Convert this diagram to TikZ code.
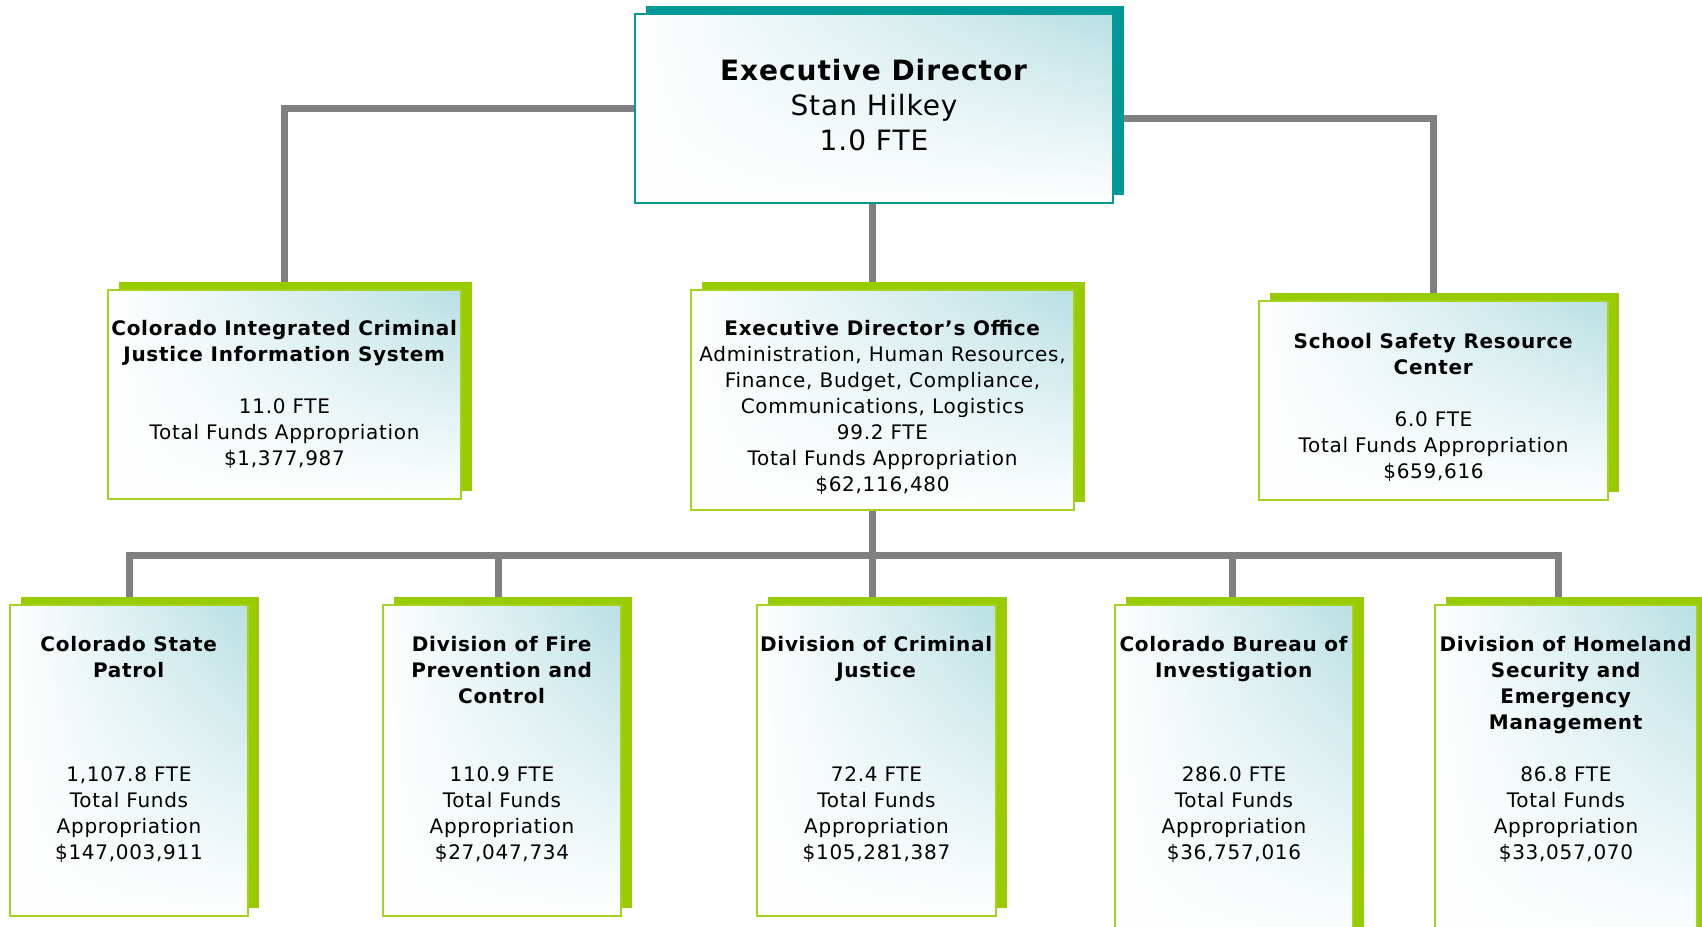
\documentclass[tikz,border=0pt]{standalone}
\usepackage{fontspec}
\setmainfont{DejaVu Sans}[LetterSpace=3.5]
\usetikzlibrary{shadows}
\usetikzlibrary{backgrounds}
\usetikzlibrary{fadings}
\definecolor{tshadow}{RGB}{0,153,153}
\definecolor{gshadow}{RGB}{153,204,0}
\definecolor{gedge}{RGB}{165,210,30}
\definecolor{tint}{RGB}{185,224,227}
\definecolor{lgrey}{RGB}{128,128,128}
\tikzfading[name=fade up, top color=transparent!100, middle color=transparent!70, bottom color=transparent!0]

\begin{document}
\begin{tikzpicture}[x=1pt,y=-1pt,font=\fontsize{20}{26}\selectfont]
      \tikzstyle{card}=[rectangle,fill=white,line width=2pt,align=center,inner sep=0pt,
        path picture={
          \fill[left color=white,right color=tint] (path picture bounding box.north west) rectangle (path picture bounding box.south east);
          \fill[white,path fading=fade up] (path picture bounding box.north west) rectangle (path picture bounding box.south east);}]
      \tikzstyle{chief}=[card,draw=tshadow,general shadow={fill=tshadow,shadow xshift=11pt,shadow yshift=8pt},font=\fontsize{28}{35}\selectfont]
      \tikzstyle{unit}=[card,draw=gedge,general shadow={fill=gshadow,shadow xshift=11pt,shadow yshift=8pt}]
      \tikzstyle{link}=[draw=lgrey,line width=7pt]

      \useasboundingbox (0,0) rectangle (1702,926);
      \clip (0,0) rectangle (1702,926);

      % top level
      \node[chief,minimum width=478pt,minimum height=189pt]	(ed) at (874,108.5) {\textbf{Executive Director}\\Stan Hilkey\\1.0 FTE\\[-27pt]~};

      % second level
      \node[unit,minimum width=353pt,minimum height=209pt]	(cicjis) at (284.5,394.5) {\textbf{Colorado Integrated Criminal}\\\textbf{Justice Information System}\\ \\11.0 FTE\\Total Funds Appropriation\\\$1,377,987};
      \node[unit,minimum width=383pt,minimum height=220pt]	(edo) at (882.5,400) {\rule{0pt}{30pt}\textbf{Executive Director’s Office}\\Administration, Human Resources,\\Finance, Budget, Compliance,\\Communications, Logistics\\99.2 FTE\\Total Funds Appropriation\\\$62,116,480};
      \node[unit,minimum width=349pt,minimum height=199pt]	(ssrc) at (1433.5,400.5) {\rule{0pt}{28pt}\textbf{School Safety Resource}\\\textbf{Center}\\ \\6.0 FTE\\Total Funds Appropriation\\\$659,616};

      % divisions
      \node[unit,minimum width=238pt,minimum height=311pt]	(csp) at (129,760.5) {\textbf{Colorado State}\\\textbf{Patrol}\\ \\ \\ \\1,107.8 FTE\\Total Funds\\Appropriation\\\$147,003,911\\ ~};
      \node[unit,minimum width=238pt,minimum height=311pt]	(fire) at (502,760.5) {\textbf{Division of Fire}\\\textbf{Prevention and}\\\textbf{Control}\\ \\ \\110.9 FTE\\Total Funds\\Appropriation\\\$27,047,734\\ ~};
      \node[unit,minimum width=239pt,minimum height=311pt]	(cj) at (876.5,760.5) {\textbf{Division of Criminal}\\\textbf{Justice}\\ \\ \\ \\72.4 FTE\\Total Funds\\Appropriation\\\$105,281,387\\ ~};
      \node[unit,minimum width=238pt,minimum height=338pt]	(cbi) at (1234,774) {\textbf{Colorado Bureau of}\\\textbf{Investigation}\\ \\ \\ \\286.0 FTE\\Total Funds\\Appropriation\\\$36,757,016\\ \\ ~};
      \node[unit,minimum width=262pt,minimum height=338pt]	(dhsem) at (1566,774) {\textbf{Division of Homeland}\\\textbf{Security and}\\\textbf{Emergency}\\\textbf{Management}\\ \\86.8 FTE\\Total Funds\\Appropriation\\\$33,057,070\\ \\ ~};

      \begin{scope}[on background layer]
      \coordinate (hub) at (872,555);
      \draw[link] (ed.west) -| (cicjis.north);
      \draw[link] ([yshift=-10pt]ed.east) -| (ssrc.north);
      \draw[link] (hub |- ed.south) -- (hub |- cj.north);
      \foreach \n/\dx in {csp/0,fire/-4,cbi/-2,dhsem/-8}
        \draw[link] (hub) -| ([xshift=\dx pt]\n.north);
      \end{scope}
\end{tikzpicture}
\end{document}
